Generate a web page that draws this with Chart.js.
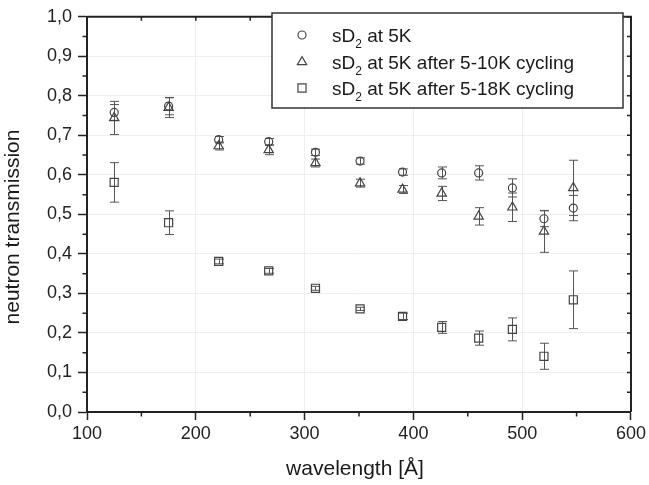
<!DOCTYPE html>
<html>
<head>
<meta charset="utf-8">
<script src="https://cdn.jsdelivr.net/npm/chart.js@4/dist/chart.umd.min.js"></script>
<style>
  body { margin: 0; background: #fff; }
  canvas { display: block; }
</style>
</head>
<body>
<canvas id="myChart" width="649" height="485"></canvas>
<script>
// wavelength in Angstrom
var wavelengths = [125, 175, 221, 267, 310, 351, 390, 426, 460, 491, 520, 547];

// sD2 at 5K
var trans5K = [0.758, 0.774, 0.689, 0.684, 0.657, 0.635, 0.607, 0.605, 0.605, 0.567, 0.489, 0.516];
var err5K = [0.02, 0.022, 0.008, 0.008, 0.008, 0.008, 0.008, 0.015, 0.018, 0.023, 0.02, 0.032];

// sD2 at 5K after 5-10K cycling
var trans10K = [0.744, 0.77, 0.673, 0.663, 0.63, 0.579, 0.563, 0.553, 0.495, 0.518, 0.457, 0.567];
var err10K = [0.042, 0.025, 0.01, 0.012, 0.01, 0.01, 0.01, 0.018, 0.022, 0.036, 0.053, 0.07];

// sD2 at 5K after 5-18K cycling
var trans18K = [0.581, 0.479, 0.381, 0.357, 0.313, 0.261, 0.242, 0.214, 0.187, 0.209, 0.141, 0.284];
var err18K = [0.05, 0.03, 0.006, 0.006, 0.005, 0.004, 0.008, 0.015, 0.018, 0.029, 0.033, 0.073];

var xTicks = [100, 200, 300, 400, 500, 600];
var yTicks = [0, 0.1, 0.2, 0.3, 0.4, 0.5, 0.6, 0.7, 0.8, 0.9, 1.0];

var legendText = [" at 5K", " at 5K after 5-10K cycling", " at 5K after 5-18K cycling"];

var ink = "#222";

function points(ys, errs) {
  return wavelengths.map(function (x, i) {
    return { x: x, y: ys[i], err: errs[i] };
  });
}

// error bars, frame, minor ticks, legend and axis titles
var extras = {
  id: "extras",
  beforeDatasetsDraw: function (chart) {
    var ctx = chart.ctx;
    var xs = chart.scales.x, ys = chart.scales.y;
    ctx.save();
    ctx.strokeStyle = "#555";
    ctx.lineWidth = 1;
    chart.data.datasets.forEach(function (ds) {
      ds.data.forEach(function (p) {
        var px = Math.round(xs.getPixelForValue(p.x)) + 0.5;
        var top = ys.getPixelForValue(p.y + p.err);
        var bot = ys.getPixelForValue(p.y - p.err);
        ctx.beginPath();
        ctx.moveTo(px, top); ctx.lineTo(px, bot);
        ctx.moveTo(px - 4.5, top); ctx.lineTo(px + 4.5, top);
        ctx.moveTo(px - 4.5, bot); ctx.lineTo(px + 4.5, bot);
        ctx.stroke();
      });
    });
    ctx.restore();
  },
  afterDraw: function (chart) {
    var ctx = chart.ctx;
    var a = chart.chartArea;
    var xs = chart.scales.x, ys = chart.scales.y;
    ctx.save();
    ctx.strokeStyle = ink;

    // top and right frame
    ctx.lineWidth = 2;
    ctx.beginPath();
    ctx.moveTo(a.left, a.top); ctx.lineTo(a.right, a.top); ctx.lineTo(a.right, a.bottom);
    ctx.stroke();

    ctx.lineWidth = 1.5;
    ctx.beginPath();
    var v, p;
    for (v = 100; v <= 600; v += 50) {
      p = xs.getPixelForValue(v);
      ctx.moveTo(p, a.top); ctx.lineTo(p, a.top + 4);
      if (v % 100 !== 0) { ctx.moveTo(p, a.bottom); ctx.lineTo(p, a.bottom + 4.5); }
    }
    for (var k = 0; k <= 20; k++) {
      v = k * 0.05;
      p = ys.getPixelForValue(v);
      ctx.moveTo(a.right, p); ctx.lineTo(a.right - 4, p);
      if (k % 2 === 1) { ctx.moveTo(a.left, p); ctx.lineTo(a.left - 4.5, p); }
    }
    ctx.stroke();

    // legend box
    var bx = 272, by = 13, bw = 351, bh = 95;
    ctx.fillStyle = "#fff";
    ctx.fillRect(bx, by, bw, bh);
    ctx.lineWidth = 1.5;
    ctx.strokeStyle = "#333";
    ctx.strokeRect(bx, by, bw, bh);
    var rows = [35, 62, 88];
    chart.data.datasets.forEach(function (ds, i) {
      ctx.fillStyle = "rgba(0,0,0,0)";
      ctx.strokeStyle = "#444";
      ctx.lineWidth = 1.2;
      Chart.helpers.drawPoint(ctx, {
        pointStyle: ds.pointStyle, radius: ds.pointRadius, borderWidth: 1.2
      }, 302, rows[i]);
      ctx.fillStyle = "#1a1a1a";
      ctx.textBaseline = "alphabetic";
      ctx.textAlign = "left";
      ctx.font = "19px 'Liberation Sans', Arial, sans-serif";
      var tx = 332, base = rows[i] + 6.5;
      ctx.fillText("sD", tx, base);
      tx += ctx.measureText("sD").width;
      ctx.font = "12px 'Liberation Sans', Arial, sans-serif";
      ctx.fillText("2", tx, base + 6.5);
      tx += ctx.measureText("2").width;
      ctx.font = "19px 'Liberation Sans', Arial, sans-serif";
      ctx.fillText(legendText[i], tx, base);
    });

    // axis titles
    ctx.fillStyle = "#1a1a1a";
    ctx.font = "21px 'Liberation Sans', Arial, sans-serif";
    ctx.textAlign = "center";
    ctx.textBaseline = "middle";
    ctx.fillText("wavelength [Å]", 355, 469);
    ctx.translate(13, 227);
    ctx.rotate(-Math.PI / 2);
    ctx.fillText("neutron transmission", 0, 0);
    ctx.restore();
  }
};

var ctx = document.getElementById("myChart").getContext("2d");

var myChart = new Chart(ctx, {
  type: "scatter",
  data: {
    datasets: [
      { label: "sD2 at 5K", data: points(trans5K, err5K), pointStyle: "circle", pointRadius: 4 },
      { label: "sD2 at 5K after 5-10K cycling", data: points(trans10K, err10K), pointStyle: "triangle", pointRadius: 5.4 },
      { label: "sD2 at 5K after 5-18K cycling", data: points(trans18K, err18K), pointStyle: "rect", pointRadius: 5.7 }
    ].map(function (ds) {
      ds.borderColor = "#444";
      ds.backgroundColor = "rgba(0,0,0,0)";
      ds.borderWidth = 1.2;
      ds.pointHoverRadius = ds.pointRadius;
      return ds;
    })
  },
  options: {
    responsive: false,
    animation: false,
    layout: { padding: { top: 9, right: 16, left: 0, bottom: 0 } },
    plugins: { legend: { display: false }, tooltip: { enabled: false } },
    scales: {
      x: {
        type: "linear",
        min: 100, max: 600,
        afterFit: function (s) { s.height = 73; },
        afterBuildTicks: function (s) { s.ticks = xTicks.map(function (v) { return { value: v }; }); },
        ticks: { color: ink, font: { size: 18, family: "'Liberation Sans', Arial, sans-serif" }, padding: 3, maxRotation: 0 },
        grid: { color: "#efefef", tickColor: ink, tickLength: 8, tickWidth: 1.5 },
        border: { color: ink, width: 2 }
      },
      y: {
        min: 0, max: 1,
        afterFit: function (s) { s.width = 87; },
        afterBuildTicks: function (s) { s.ticks = yTicks.map(function (v) { return { value: v }; }); },
        ticks: {
          color: ink, font: { size: 18, family: "'Liberation Sans', Arial, sans-serif" }, padding: 6,
          callback: function (v) { return v.toFixed(1).replace(".", ","); }
        },
        grid: { color: "#efefef", tickColor: ink, tickLength: 9, tickWidth: 1.5 },
        border: { color: ink, width: 2 }
      }
    }
  },
  plugins: [extras]
});
</script>
</body>
</html>
